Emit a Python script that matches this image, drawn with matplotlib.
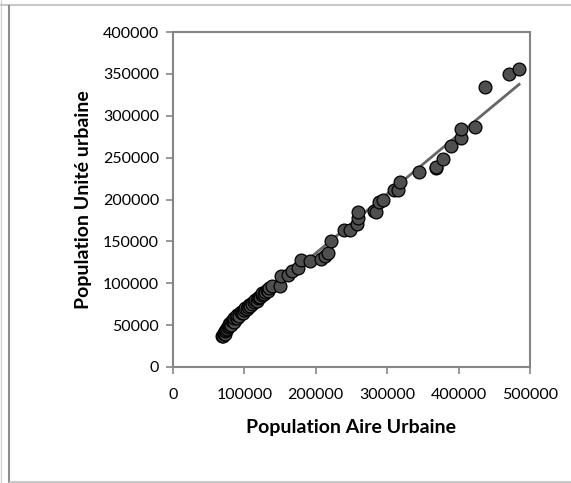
import numpy as np
import matplotlib
matplotlib.use('Agg')
import matplotlib.pyplot as plt
from matplotlib.lines import Line2D

# Population Aire Urbaine (x) vs Population Unite urbaine (y)
aire = [
    69000, 70000, 70500, 71000, 72000, 72500, 73000, 74000, 75000, 76000,
    77000, 78000, 79000, 80000, 81000, 82000, 84000, 85000, 86000, 88000,
    89000, 90000, 92000, 93000, 95000, 96000, 98000, 100000, 101000, 103000,
    105000, 106000, 108000, 110000, 111000, 113000, 115000, 117000, 119000, 120000,
    122000, 124000, 125000, 127000, 129000, 131000, 133000, 135000, 138900, 150500,
    151600, 161700, 166800, 175500, 179500, 192300, 207500, 212600, 217700, 221300,
    239100, 247300, 257400, 259400, 259400, 281300, 284900, 288900, 294000, 309300,
    315400, 317900, 344900, 367800, 367800, 377900, 389600, 403900, 403900, 423200,
    436400, 470500, 484700,
]
unite = [
    37000, 38000, 36500, 40000, 41000, 39000, 43000, 44000, 46000, 45000,
    48000, 49000, 51000, 52000, 50000, 55000, 56000, 54000, 58000, 60000,
    58000, 62000, 63000, 61000, 66000, 64000, 65000, 68000, 70000, 69000,
    72000, 74000, 73000, 76000, 75000, 78000, 80000, 79000, 82000, 84000,
    83000, 86000, 88000, 87000, 90000, 92000, 91000, 94000, 96400, 97200,
    108300, 110300, 114300, 118300, 128200, 127000, 129000, 132900, 136100, 150000,
    163900, 163900, 171000, 177800, 184900, 185700, 184900, 197600, 199600, 211500,
    211500, 221400, 233300, 237300, 239300, 248000, 264300, 273800, 283700, 286900,
    334500, 350400, 355600,
]

x_ticks = [0, 100000, 200000, 300000, 400000, 500000]
y_ticks = [0, 50000, 100000, 150000, 200000, 250000, 300000, 350000, 400000]

plt.rcParams['font.family'] = ['Lato', 'DejaVu Sans']

fig = plt.figure(figsize=(5.71, 4.83), dpi=100)
ax = fig.add_axes([173 / 571, 1 - 367 / 483, 357 / 571, 335 / 483])

# linear trend line (like Excel)
slope, intercept = np.polyfit(aire, unite, 1)
xs = np.array([min(aire), max(aire)])
ax.plot(xs, slope * xs + intercept, color='#666666', linewidth=2, zorder=2)

ax.scatter(aire, unite, s=85, facecolor='#4f4f4f', edgecolor='black',
           linewidth=0.9, zorder=3)

ax.set_xlim(0, 500000)
ax.set_ylim(0, 400000)
ax.set_xticks(x_ticks)
ax.set_yticks(y_ticks)
ax.tick_params(direction='out', length=5, width=1.2, color='#868686',
               labelsize=11.5, labelcolor='black')
ax.tick_params(axis='x', pad=10)
ax.tick_params(axis='y', pad=5)

for s in ax.spines.values():
    s.set_color('#868686')
    s.set_linewidth(1.5)

ax.set_xlabel('Population Aire Urbaine', fontsize=14, fontweight='bold', labelpad=12)
ax.set_ylabel('Population Unité urbaine', fontsize=14, fontweight='bold', labelpad=8)

# chart area border
fig.add_artist(Line2D([0.5 / 571, 0.5 / 571], [0, 1], color='#d4d4d4', linewidth=1))
fig.add_artist(Line2D([0, 1], [1 - 5 / 483, 1 - 5 / 483], color='#c8c8c8', linewidth=1.5))
fig.add_artist(Line2D([8.5 / 571, 8.5 / 571], [0, 1 - 6 / 483], color='#8c8c8c', linewidth=1.5))
fig.add_artist(Line2D([10 / 571, 1], [1 - 482 / 483, 1 - 482 / 483], color='#c8c8c8', linewidth=1.5))

fig.savefig('out.png', dpi=100)
